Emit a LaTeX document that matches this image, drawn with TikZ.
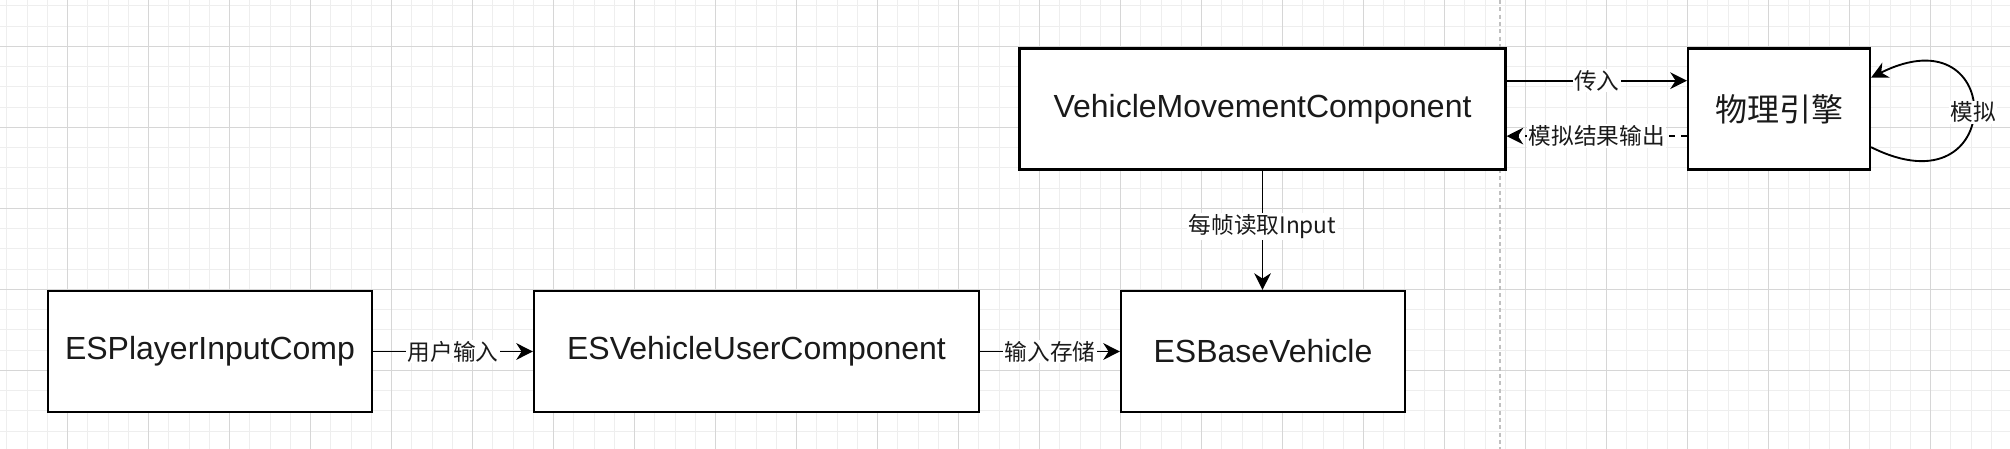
\documentclass[tikz,border=0pt]{standalone}
\usepackage{fontspec}
\setmainfont{Liberation Sans}
\newfontfamily\cjk{Noto Sans CJK SC}
\usetikzlibrary{arrows.meta,calc}
\definecolor{gridminor}{HTML}{EEEEEE}
\definecolor{gridmajor}{HTML}{D6D6D6}
\definecolor{txt}{HTML}{1A1A1A}
\definecolor{divider}{HTML}{C0C0C0}
\begin{document}
\begin{tikzpicture}[x=0.75pt,y=-0.75pt,
  box/.style={draw=black,fill=white,line width=1.6pt,text=txt,inner sep=0pt,
    minimum height=90.75pt,font=\fontsize{24pt}{28pt}\selectfont},
  conn/.style={draw=black,line width=1.4pt,-{Stealth[length=12.5pt,width=12.5pt,inset=4pt]}},
  lbl/.style={fill=white,text=txt,inner sep=1pt,font=\cjk\fontsize{17pt}{20pt}\selectfont},
  minorline/.style={draw=gridminor,line width=0.75pt},
  majorline/.style={draw=gridmajor,line width=0.9pt}]
\useasboundingbox (0,0) rectangle (2010,449);
\fill[white] (0,0) rectangle (2010,449);
% grid
\foreach \i in {0,...,99} {\draw[minorline] (6.95+20.25*\i,0) -- (6.95+20.25*\i,449);}
\foreach \j in {0,...,22} {\draw[minorline] (0,5.8+20.25*\j) -- (2010,5.8+20.25*\j);}
\foreach \i in {-1,...,24} {\draw[majorline] (67.7+81*\i,0) -- (67.7+81*\i,449);}
\foreach \j in {0,...,5} {\draw[majorline] (0,46.3+81*\j) -- (2010,46.3+81*\j);}
% divider
\coordinate (dtop) at (1500,0);
\coordinate (dbot) at (1500,449);
\draw[divider,line width=0.9pt,dash pattern=on 3pt off 2.5pt] (dtop) -- (dbot);
% boxes
\node[box,minimum width=364.5pt] (vmc) at (1262.5,109) {VehicleMovementComponent};
\node[box,minimum width=136.5pt,font=\cjk\fontsize{24pt}{28pt}\selectfont] (phys) at (1779,109) {物理引擎};
\node[box,minimum width=243pt] (espic) at (210,351.5) {ESPlayerInputComp};
\node[box,minimum width=333.75pt] (esvuc) at (756.5,351.5) {ESVehicleUserComponent};
\node[box,minimum width=213pt] (esbv) at (1263,351.5) {ESBaseVehicle};
% connectors
\draw[conn] (espic) -- node[lbl] {用户输入} (esvuc);
\draw[conn] (esvuc) -- node[lbl] {输入存储} (esbv);
\draw[conn] (vmc.south) -- node[lbl,pos=0.47] {每帧读取Input} (vmc.south |- esbv.north);
\coordinate (a1) at ($(vmc.north east)!0.27!(vmc.south east)$);
\coordinate (a2) at ($(vmc.north east)!0.72!(vmc.south east)$);
\draw[conn] (a1) -- node[lbl] {传入} (a1 -| phys.west);
\draw[conn,dash pattern=on 4.5pt off 4.5pt] (a2 -| phys.west) -- node[lbl] {模拟结果输出} (a2);
\coordinate (l1) at ($(phys.north east)!0.81!(phys.south east)$);
\coordinate (l2) at ($(phys.north east)!0.245!(phys.south east)$);
\draw[conn] (l1) .. controls +(136,68) and +(136,-68) .. node[lbl,pos=0.5] {模拟} (l2);
\end{tikzpicture}
\end{document}
